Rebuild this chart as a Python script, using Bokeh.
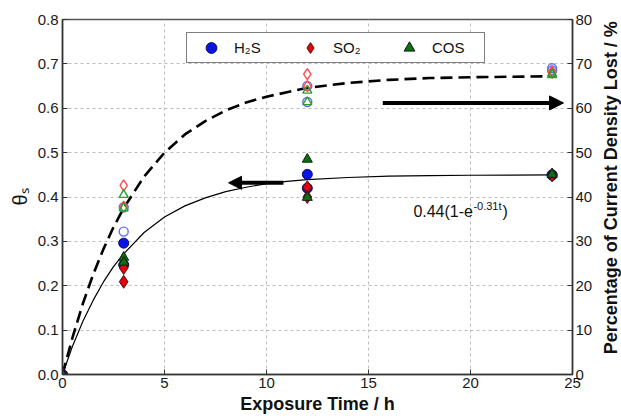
import math
from bokeh.plotting import figure
from bokeh.layouts import row
from bokeh.models import (Range1d, LinearAxis, Legend, LegendItem, Arrow, NormalHead,
                          Label, FixedTicker, PrintfTickFormatter)
from bokeh.embed import file_html
from bokeh.resources import INLINE

# ---------------- data ----------------
time_h = [0, 3, 12, 24]

# surface coverage theta_s (left axis), filled markers, two runs per gas
h2s_theta_a = [0, 0.296, 0.451, 0.450]
h2s_theta_b = [0, 0.247, 0.420, 0.449]
so2_theta_a = [0, 0.240, 0.422, 0.450]
so2_theta_b = [0, 0.209, 0.400, 0.449]
cos_theta_a = [0, 0.264, 0.485, 0.451]
cos_theta_b = [0, 0.253, 0.399, 0.451]

# percentage of current density lost (right axis), open markers
h2s_pct_a = [0, 37.7, 65.0, 69.0]
h2s_pct_b = [0, 32.2, 61.4, 68.5]
so2_pct_a = [0, 42.6, 67.7, 68.3]
so2_pct_b = [0, 37.8, 65.0, 68.0]
cos_pct_a = [0, 40.5, 64.0, 67.8]
cos_pct_b = [0, 37.5, 61.4, 67.5]

# fitted curves
curve_t = [0, 0.5, 1, 1.5, 2, 2.5, 3, 4, 5, 6, 7, 8, 9, 10, 11, 12, 14, 16, 18, 20, 22, 24]
theta_fit = [0, 0.065, 0.120, 0.167, 0.208, 0.243, 0.272, 0.320, 0.355, 0.380, 0.398,
             0.412, 0.422, 0.430, 0.435, 0.439, 0.444, 0.447, 0.448, 0.449, 0.4495, 0.450]
pct_fit = [0, 8.5, 16.0, 22.5, 28.2, 33.2, 37.5, 44.6, 50.0, 54.1, 57.1, 59.5, 61.3,
           62.6, 63.6, 64.6, 65.7, 66.4, 66.8, 67.0, 67.1, 67.2]

x_ticks = [0, 5, 10, 15, 20, 25]
left_ticks = [0, 0.1, 0.2, 0.3, 0.4, 0.5, 0.6, 0.7, 0.8]
right_ticks = [0, 10, 20, 30, 40, 50, 60, 70, 80]
gas_labels = ["H\u2082S", "SO\u2082", "COS"]
right_title = "Percentage of Current Density Lost / %"

FONT = "Liberation Sans"

p = figure(width=598, height=418, x_range=Range1d(0, 25), y_range=Range1d(0, 0.8),
           output_backend="svg", toolbar_location=None,
           min_border_left=62, min_border_right=26, min_border_top=19, min_border_bottom=44)
p.extra_y_ranges = {"pct": Range1d(0, 80)}

p.outline_line_color = "#555555"
p.outline_line_width = 1.5
p.background_fill_color = "white"
p.border_fill_color = "white"

# grids
for g in (p.xgrid, p.ygrid):
    g.grid_line_color = "#bdbdbd"
    g.grid_line_dash = "3 3"
    g.grid_line_width = 1

def style_axis(ax, fs_label, title_fs):
    ax.axis_line_color = "#333333"
    ax.axis_line_width = 1.5
    ax.major_tick_in = 5
    ax.major_tick_out = 0
    ax.major_tick_line_color = "#333333"
    ax.minor_tick_line_color = None
    ax.major_label_text_font = FONT
    ax.major_label_text_font_size = fs_label
    ax.major_label_text_color = "#1a1a1a"
    ax.axis_label_text_font = FONT
    ax.axis_label_text_font_size = title_fs
    ax.axis_label_text_color = "#111111"

xa = p.xaxis[0]
xa.ticker = FixedTicker(ticks=x_ticks)
xa.axis_label = "Exposure Time / h"
style_axis(xa, "15px", "18px")
xa.axis_label_text_font_style = "bold"
xa.major_label_standoff = 3
xa.axis_label_standoff = 3

ya = p.yaxis[0]
ya.ticker = FixedTicker(ticks=left_ticks)
ya.formatter = PrintfTickFormatter(format="%.1f")
ya.axis_label = "\u03b8\u209b"
style_axis(ya, "15px", "20px")
ya.axis_label_text_font_style = "normal"
ya.major_label_standoff = 4
ya.axis_label_standoff = 4

ra = LinearAxis(y_range_name="pct", ticker=FixedTicker(ticks=right_ticks))
style_axis(ra, "15px", "18px")
ra.major_label_standoff = 3
p.add_layout(ra, "right")

# fitted curves
p.line(curve_t, pct_fit, y_range_name="pct", line_color="black", line_width=2.6,
       line_dash="12 6")
p.line(curve_t, theta_fit, line_color="black", line_width=1.2)

# open markers (percentage, right axis)
open_blue = "#5f6dff"
open_red = "#ff4d4d"
open_green = "#2e9e2e"
for vals in (h2s_pct_a, h2s_pct_b):
    p.scatter(time_h, vals, y_range_name="pct", marker="circle", size=9,
              fill_color=None, line_color=open_blue, line_width=1.4)
for vals in (so2_pct_a, so2_pct_b):
    p.scatter(time_h, vals, y_range_name="pct", marker="diamond", size=11,
              fill_color=None, line_color=open_red, line_width=1.4)
for vals in (cos_pct_a, cos_pct_b):
    p.scatter(time_h, vals, y_range_name="pct", marker="triangle", size=9,
              fill_color=None, line_color=open_green, line_width=1.4)

# filled markers (theta, left axis)
r_h2s = None
r_so2 = None
r_cos = None
for vals in (h2s_theta_a, h2s_theta_b):
    r_h2s = p.scatter(time_h, vals, marker="circle", size=10, fill_color="#0a14e6",
                      line_color="#101060", line_width=1)
for vals in (so2_theta_a, so2_theta_b):
    r_so2 = p.scatter(time_h, vals, marker="diamond", size=13,
                      fill_color="#e6000a", line_color="#501010", line_width=1)
for vals in (cos_theta_a, cos_theta_b):
    r_cos = p.scatter(time_h, vals, marker="triangle", size=10, fill_color="#0a7010",
                      line_color="#102010", line_width=1)

# arrows
p.add_layout(Arrow(end=NormalHead(size=13, fill_color="black", line_color="black", line_width=1),
                   x_start=10.83, y_start=0.432, x_end=8.14, y_end=0.432,
                   line_width=4, line_color="black"))
p.add_layout(Arrow(end=NormalHead(size=14, fill_color="black", line_color="black", line_width=1),
                   x_start=15.7, y_start=0.612, x_end=24.56, y_end=0.612,
                   line_width=4, line_color="black"))

# fit equation annotation
p.add_layout(Label(x=17.2, y=0.368, text="0.44(1-e", text_font=FONT, text_font_size="16px",
                   text_baseline="alphabetic", text_color="#111111"))
p.add_layout(Label(x=17.2, y=0.368, x_offset=60, y_offset=5, text="-0.31t", text_font=FONT,
                   text_font_size="11px", text_baseline="alphabetic", text_color="#111111"))
p.add_layout(Label(x=17.2, y=0.368, x_offset=89, text=")", text_font=FONT, text_font_size="16px",
                   text_baseline="alphabetic", text_color="#111111"))

legend = Legend(items=[LegendItem(label=gas_labels[0], renderers=[r_h2s]),
                       LegendItem(label=gas_labels[1], renderers=[r_so2]),
                       LegendItem(label=gas_labels[2], renderers=[r_cos])],
                orientation="horizontal", location=(124, 311))
legend.border_line_color = "black"
legend.border_line_width = 1.5
legend.background_fill_color = "white"
legend.background_fill_alpha = 1
legend.padding = 1
legend.spacing = 2
legend.margin = 0
legend.glyph_width = 46
legend.glyph_height = 27
legend.label_standoff = 0
legend.label_width = 51
legend.label_text_font = FONT
legend.label_text_font_size = "15px"
legend.label_text_color = "#111111"
p.add_layout(legend, "center")

# narrow strip holding the right-axis title, reading bottom-to-top
p2 = figure(width=23, height=418, x_range=Range1d(0, 23), y_range=Range1d(0, 418),
            output_backend="svg", toolbar_location=None, x_axis_type=None, y_axis_type=None,
            min_border_left=0, min_border_right=0, min_border_top=0, min_border_bottom=0)
p2.outline_line_color = None
p2.xgrid.visible = False
p2.ygrid.visible = False
p2.background_fill_color = "white"
p2.border_fill_color = "white"
p2.add_layout(Label(x=12.5, y=220, text=right_title, angle=math.pi / 2,
                    text_align="center", text_baseline="middle", text_font=FONT,
                    text_font_size="18px", text_font_style="bold", text_color="#111111"))

layout = row(p, p2, spacing=0)
open("out.html", "w").write(file_html(layout, INLINE))
